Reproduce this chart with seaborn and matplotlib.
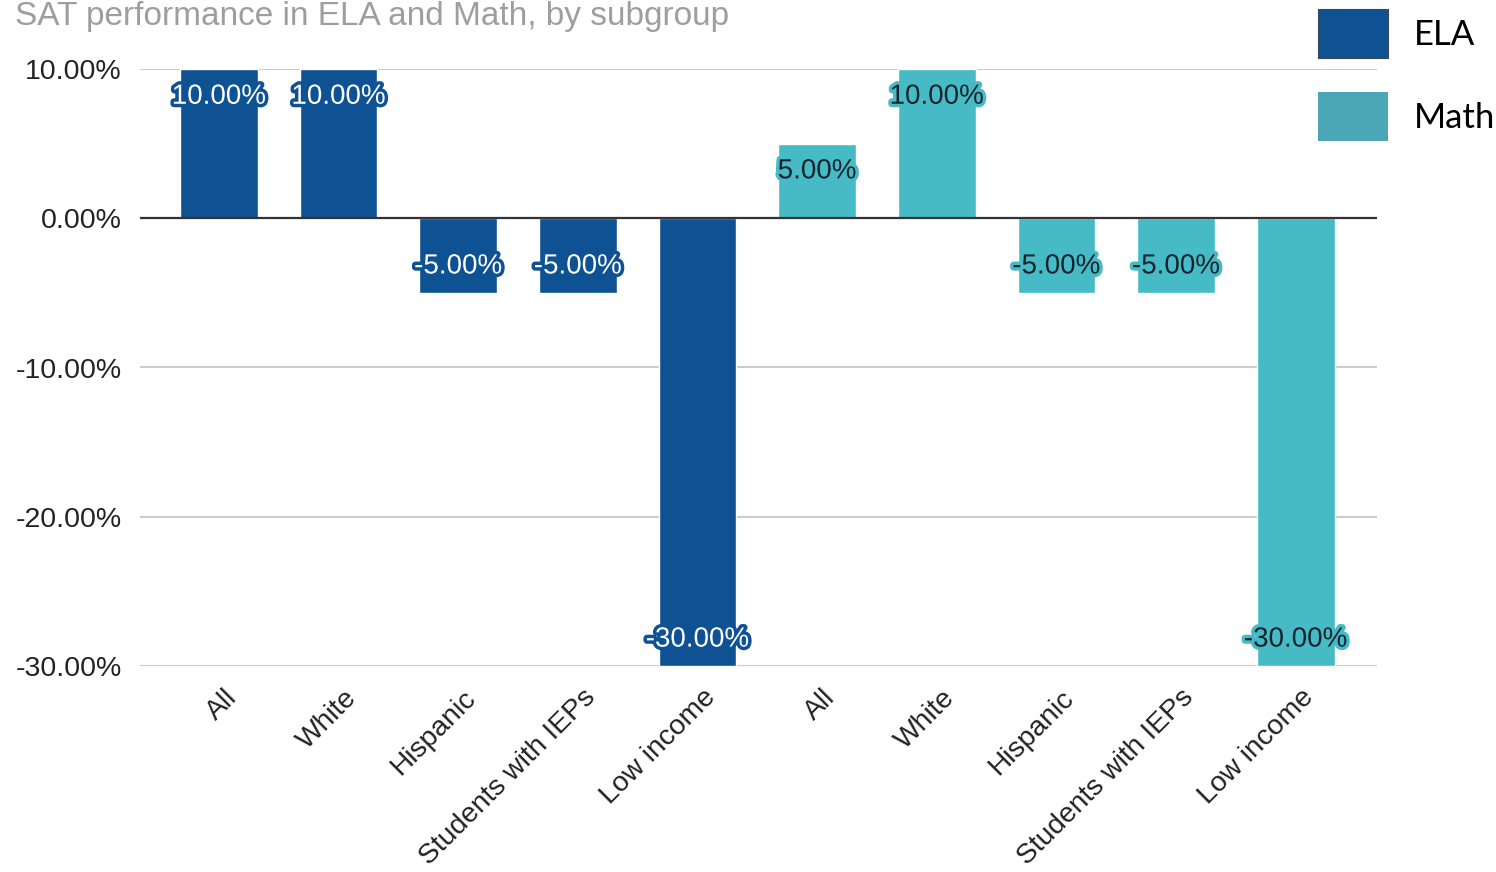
import matplotlib
matplotlib.use("Agg")
import matplotlib.pyplot as plt
import matplotlib.patheffects as pe
import matplotlib.transforms as mtransforms
from matplotlib.patches import Patch
import seaborn as sns
import pandas as pd

# ---- data ----
subgroups = ["All", "White", "Hispanic", "Students with IEPs", "Low income"]
ela_values = [10.0, 10.0, -5.0, -5.0, -30.0]
math_values = [5.0, 10.0, -5.0, -5.0, -30.0]
series_names = ["ELA", "Math"]
title_text = "SAT performance in ELA and Math, by subgroup"
yticks = [10, 0, -10, -20, -30]

ela_color = "#0f5294"
math_color = "#46bbc5"
math_legend_color = "#4ba6b6"

labels = subgroups + subgroups
values = ela_values + math_values
subject = ["ELA"] * len(ela_values) + ["Math"] * len(math_values)
df = pd.DataFrame({
    "slot": [f"{s}_{i}" for i, s in enumerate(labels)],
    "label": labels,
    "value": values,
    "subject": subject,
})

sns.set_theme(style="white")
plt.rcParams["font.family"] = ["Liberation Sans", "DejaVu Sans"]

fig = plt.figure(figsize=(14.96, 8.72), dpi=100)
ax = fig.add_axes([140 / 1496, (872 - 666) / 872, (1377 - 140) / 1496, (666 - 69) / 872])

sns.barplot(data=df, x="slot", y="value", hue="subject",
            palette={"ELA": ela_color, "Math": math_color},
            dodge=False, width=0.65, ax=ax, legend=False, saturation=1)

ax.set_xlim(-0.66, 9.68)
ax.set_ylim(-30, 10)
ax.set_yticks(yticks)
ax.set_yticklabels([f"{v:.2f}%" for v in yticks], fontsize=20.5, color="#222222")
ax.tick_params(axis="y", length=0, pad=13)
ax.set_xlabel("")
ax.set_ylabel("")
for s in ax.spines.values():
    s.set_visible(False)
ax.grid(False)
for v in yticks:
    ax.axhline(v, color="#333333" if v == 0 else "#cccccc",
               lw=1.6 if v == 0 else 1.5, zorder=0.5 if v != 0 else 3)

ax.set_xticks(range(len(labels)))
ax.set_xticklabels(labels, rotation=45, ha="right", va="center",
                   rotation_mode="anchor", fontsize=20.3, color="#222222")
ax.tick_params(axis="x", length=0, pad=20)
offset = mtransforms.ScaledTranslation(14 / 100, 0, fig.dpi_scale_trans)
for t in ax.get_xticklabels():
    t.set_transform(t.get_transform() + offset)

# value labels
for i, (v, subj) in enumerate(zip(values, subject)):
    if subj == "ELA":
        tc, sc = "white", ela_color
    else:
        tc, sc = "#16232e", math_color
    dy = -20 if v > 0 else 19
    ax.annotate(f"{v:.2f}%", xy=(i, v), xytext=(0, dy), textcoords="offset points",
                ha="center", va="center", fontsize=20, color=tc, zorder=5,
                path_effects=[pe.withStroke(linewidth=5, foreground=sc)])

fig.text(15 / 1496, 1 - 1 / 872, title_text, fontsize=24, color="#9e9e9e",
         ha="left", va="top")

handles = [Patch(facecolor=ela_color, edgecolor="#3a4a5a", lw=0.8),
           Patch(facecolor=math_legend_color, edgecolor="none")]
fig.legend(handles, series_names, loc="upper left",
           bbox_to_anchor=(1318 / 1496, 1 - 9 / 872), frameon=False,
           handlelength=2.02, handleheight=1.8,
           labelspacing=0.98, handletextpad=0.75, borderpad=0, borderaxespad=0,
           labelcolor="black",
           prop={"family": ["Lato", "DejaVu Sans"], "size": 25})

fig.savefig("out.png", dpi=100)
